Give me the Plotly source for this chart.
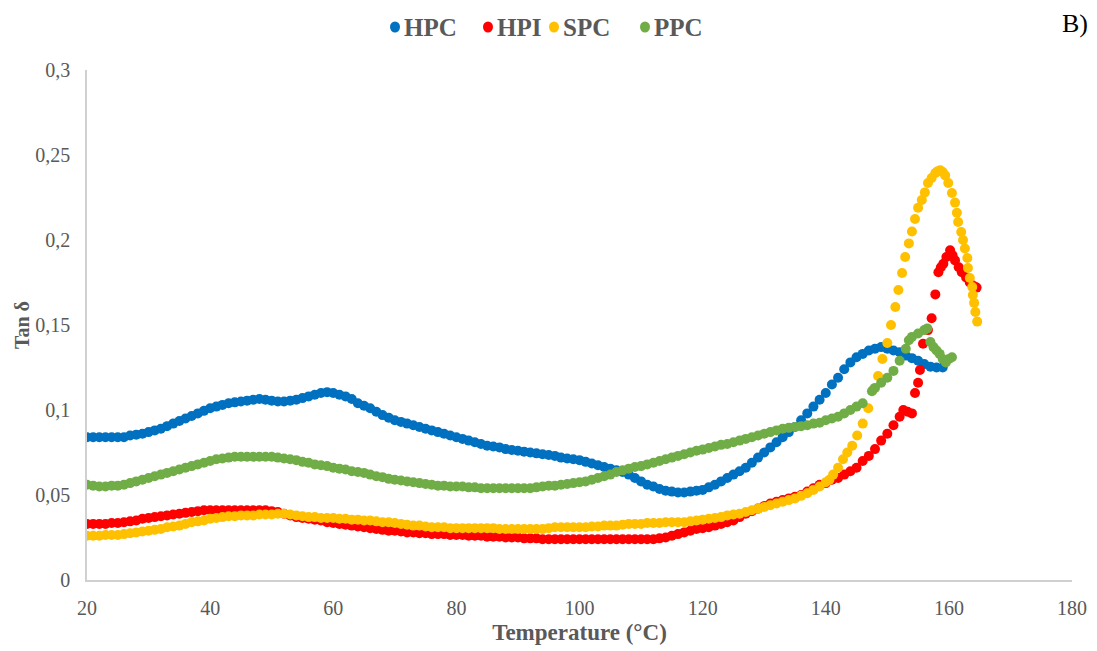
import plotly.graph_objects as go

# Tan delta vs temperature for four samples (DMA heating scans)

# HPC
hpc_temp = list(range(20, 160))
hpc_tan = [
    .084, .084, .084, .084, .084, .084, .084, .085, .0855, .086,
    .087, .088, .089, .0905, .092, .0935, .095, .0965, .098, .0995,
    .101, .102, .103, .104, .1045, .105, .1055, .106, .1065, .106,
    .1055, .105, .105, .1055, .106, .107, .108, .109, .110, .1105,
    .110, .109, .108, .1065, .104, .1025, .101, .099, .097, .0955,
    .094, .093, .092, .091, .090, .089, .088, .087, .086, .085,
    .084, .083, .082, .081, .080, .079, .0785, .078, .077, .0765,
    .076, .0755, .075, .0745, .074, .0735, .073, .072, .0715, .071,
    .0705, .0695, .0685, .0675, .0665, .0655, .0645, .0635, .062, .060,
    .058, .056, .055, .0535, .0525, .052, .0515, .0515, .052, .0525,
    .053, .0545, .056, .058, .060, .062, .064, .066, .069, .072,
    .075, .078, .081, .084, .087, .090, .094, .098, .102, .106,
    .110, .115, .119, .124, .128, .131, .133, .135, .136, .137,
    .136, .135, .134, .132, .1305, .129, .127, .1255, .125, .125,
]

# HPI
hpi_temp = list(range(20, 153)) + [
    152.6, 153.3, 154, 154.5, 155, 155.3, 155.8, 156.6, 157.2, 157.8,
    158.3, 158.7, 159.1, 159.6, 160.2, 160.6, 161, 161.6, 162.1, 162.8,
    163.4, 164, 164.5,
]
hpi_tan = [
    .033, .033, .033, .033, .0335, .0335, .034, .0345, .035, .036,
    .0365, .037, .0375, .038, .0385, .039, .0395, .040, .0405, .041,
    .041, .041, .041, .041, .041, .041, .041, .041, .041, .041,
    .0405, .040, .039, .038, .037, .0365, .036, .0355, .035, .034,
    .0335, .033, .0325, .032, .0315, .031, .0305, .030, .0295, .029,
    .029, .0285, .028, .028, .0275, .0275, .027, .027, .027, .0265,
    .0265, .0265, .026, .026, .026, .0255, .0255, .0255, .025, .025,
    .025, .0245, .0245, .0245, .024, .024, .024, .024, .024, .024,
    .024, .024, .024, .024, .024, .024, .024, .024, .024, .024,
    .024, .024, .024, .0245, .025, .026, .027, .028, .029, .030,
    .0305, .031, .032, .033, .034, .035, .037, .039, .0405, .042,
    .0435, .045, .046, .047, .048, .049, .050, .052, .054, .056,
    .057, .059, .060, .062, .064, .066, .070, .073, .077, .082,
    .086, .091, .096,
    .100, .099, .098, .110, .116, .1235, .139, .147, .154, .168,
    .181, .184, .186, .190, .194, .191, .188, .184, .181, .178,
    .175, .173, .172,
]

# SPC
spc_temp = list(range(20, 141)) + [
    140.6, 141.2, 142, 142.8, 143.5, 144.3, 145.1, 146, 146.9, 147.7,
    148.5, 149.2, 150, 150.6, 151.3, 151.8, 152.4, 152.9, 153.5, 154,
    154.5, 155, 155.6, 156.1, 156.6, 157.2, 157.8, 158.2, 158.6, 159,
    159.4, 159.9, 160.5, 161, 161.3, 161.5, 162, 162.3, 162.6, 163,
    163.1, 163.4, 163.8, 163.9, 164.1, 164.3, 164.6,
]
spc_tan = [
    .026, .026, .026, .0265, .0265, .0265, .027, .0275, .028, .0285,
    .029, .0295, .030, .031, .0315, .032, .033, .034, .0345, .035,
    .036, .0365, .037, .0375, .0375, .038, .038, .038, .0385, .0385,
    .0385, .039, .039, .0385, .038, .0375, .037, .037, .0365, .0365,
    .0365, .036, .036, .0355, .0355, .035, .035, .0345, .034, .034,
    .0335, .033, .0325, .032, .032, .0315, .031, .031, .031, .0305,
    .0305, .0305, .0305, .0305, .0305, .0305, .0305, .030, .030, .030,
    .030, .030, .030, .030, .030, .0305, .031, .031, .031, .031,
    .031, .031, .0315, .0315, .032, .032, .032, .0325, .033, .033,
    .033, .0335, .0335, .0335, .034, .034, .034, .034, .0345, .035,
    .0355, .036, .0365, .037, .038, .0385, .039, .040, .041, .042,
    .043, .044, .045, .046, .047, .048, .0495, .051, .053, .055,
    .0575,
    .059, .062, .066, .071, .075, .079, .085, .092, .101, .112,
    .120, .130, .1394, .150, .1606, .1706, .1806, .190, .198, .205,
    .2124, .219, .2235, .228, .2335, .2365, .2394, .2405, .241, .240,
    .238, .2335, .2276, .222, .216, .2106, .2047, .200, .195, .1894,
    .1835, .1776, .1724, .1676, .163, .1576, .152,
]

# PPC
ppc_temp = list(range(20, 147)) + [
    147.5, 148, 149, 150, 151, 152, 153, 153.5, 154, 155,
    156, 156.5, 157, 157.5, 158, 158.5, 159, 159.5, 160, 160.5,
]
ppc_tan = [
    .056, .0555, .055, .055, .0555, .0555, .056, .057, .058, .059,
    .060, .061, .062, .063, .064, .065, .066, .067, .068, .069,
    .070, .071, .0715, .072, .0725, .0725, .0725, .0725, .0725, .0725,
    .0725, .072, .0715, .071, .0705, .0695, .069, .068, .0675, .067,
    .066, .0655, .065, .064, .0635, .063, .062, .061, .0605, .0595,
    .059, .0585, .058, .0575, .057, .0565, .056, .0555, .0555, .055,
    .055, .055, .0545, .0545, .054, .054, .054, .054, .054, .054,
    .054, .054, .054, .0545, .055, .0555, .0555, .056, .0565, .057,
    .0575, .058, .059, .060, .061, .062, .0635, .0645, .0655, .0665,
    .067, .068, .069, .070, .071, .072, .073, .074, .075, .076,
    .0767, .0776, .0785, .0795, .080, .081, .082, .083, .084, .085,
    .086, .087, .088, .089, .0895, .090, .0905, .091, .092, .0925,
    .094, .095, .096, .098, .100, .102, .104,
    .111, .113, .116, .119, .123, .129, .136, .141, .143, .145,
    .147, .148, .140, .137, .135, .133, .130, .128, .130, .131,
]

x_ticks = [20, 40, 60, 80, 100, 120, 140, 160, 180]
y_ticks = [0, 0.05, 0.1, 0.15, 0.2, 0.25, 0.3]
y_tick_text = ["0", "0,05", "0,1", "0,15", "0,2", "0,25", "0,3"]

series = [
    ("HPC", hpc_temp, hpc_tan, "#0070C0"),
    ("HPI", hpi_temp, hpi_tan, "#FF0000"),
    ("SPC", spc_temp, spc_tan, "#FFC000"),
    ("PPC", ppc_temp, ppc_tan, "#70AD47"),
]

SERIF = "Liberation Serif, Times New Roman, serif"
GREY = "#595959"

fig = go.Figure()
for name, t, v, color in series:
    fig.add_trace(go.Scatter(
        x=t, y=v, mode="markers", name=name,
        marker=dict(size=10, color=color, line=dict(width=0)),
    ))

# Compact legend row above the plot: a dot and a bold label per series
legend_dot_x = [0.3127, 0.4071, 0.4741, 0.5665]
legend_y = 1.0843
shapes = []
annotations = []
for (name, _, _, color), lx in zip(series, legend_dot_x):
    shapes.append(dict(
        type="circle", xref="paper", yref="paper",
        xsizemode="pixel", ysizemode="pixel",
        xanchor=lx, yanchor=legend_y, x0=-5, x1=5, y0=-5.5, y1=5.5,
        fillcolor=color, line=dict(width=0),
    ))
    annotations.append(dict(
        text=name, xref="paper", yref="paper", x=lx, y=legend_y,
        xanchor="left", yanchor="middle", xshift=7, showarrow=False,
        font=dict(family=SERIF, size=25, color=GREY, weight="bold"),
    ))

annotations.append(dict(
    text="B)", xref="paper", yref="paper", x=1.018, y=1.092,
    xanchor="right", yanchor="middle", showarrow=False,
    font=dict(family=SERIF, size=26, color="black"),
))

fig.update_layout(
    width=1097, height=651,
    margin=dict(l=87, r=25, t=70, b=71),
    paper_bgcolor="white", plot_bgcolor="white",
    font=dict(family=SERIF, color=GREY),
    showlegend=False,
    xaxis=dict(
        range=[20, 180], tickvals=x_ticks, ticks="", showgrid=False,
        zeroline=False, showline=True, linecolor="#D0D0D0", linewidth=1.5,
        automargin=False,
        tickfont=dict(family=SERIF, size=20, color=GREY),
        ticklabelstandoff=9,
        title=dict(text="Temperature (°C)", standoff=6,
                   font=dict(family=SERIF, size=23, color=GREY, weight="bold")),
    ),
    yaxis=dict(
        range=[0, 0.3], tickvals=y_ticks, ticktext=y_tick_text, ticks="",
        showgrid=False, zeroline=False, showline=True, linecolor="#D0D0D0",
        linewidth=1.5, automargin=False,
        tickfont=dict(family=SERIF, size=20, color=GREY),
        ticklabelstandoff=11,
        title=dict(text="Tan δ", standoff=0,
                   font=dict(family=SERIF, size=20, color=GREY, weight="bold")),
    ),
    shapes=shapes,
    annotations=annotations,
)

fig.write_html("out.html")
